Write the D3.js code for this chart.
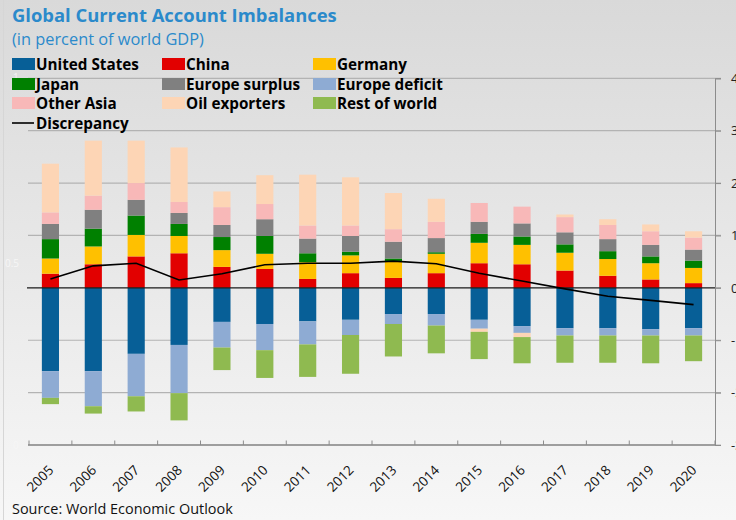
<!DOCTYPE html>
<html><head><meta charset="utf-8">
<script src="https://cdn.jsdelivr.net/npm/d3@7"></script>
<style>html,body{margin:0;padding:0;background:#fff;}svg{display:block;}</style>
</head><body>
<svg id="chart" width="736" height="520"></svg>
<script>
const years = ["2005","2006","2007","2008","2009","2010","2011","2012","2013","2014","2015","2016","2017","2018","2019","2020"];
const seriesNames = ["United States","China","Germany","Japan","Europe surplus","Europe deficit","Other Asia","Oil exporters","Rest of world"];
const unitedStates  = [-1.59,-1.59,-1.26,-1.09,-0.65,-0.69,-0.64,-0.61,-0.50,-0.50,-0.61,-0.73,-0.77,-0.77,-0.79,-0.77];
const china         = [0.27,0.45,0.60,0.66,0.40,0.36,0.17,0.28,0.19,0.28,0.47,0.45,0.33,0.23,0.16,0.09];
const germany       = [0.29,0.34,0.41,0.33,0.32,0.29,0.32,0.34,0.31,0.37,0.39,0.37,0.34,0.32,0.31,0.29];
const japan         = [0.37,0.34,0.37,0.23,0.25,0.34,0.17,0.07,0.06,0.03,0.17,0.16,0.16,0.15,0.13,0.14];
const europeSurplus = [0.29,0.36,0.30,0.21,0.23,0.32,0.28,0.30,0.32,0.27,0.23,0.25,0.23,0.23,0.22,0.21];
const europeDeficit = [-0.51,-0.67,-0.81,-0.92,-0.49,-0.50,-0.44,-0.29,-0.19,-0.22,-0.17,-0.13,-0.14,-0.14,-0.12,-0.14];
const otherAsia     = [0.22,0.27,0.32,0.21,0.34,0.29,0.25,0.20,0.24,0.31,0.36,0.32,0.29,0.27,0.26,0.23];
const oilExporters  = [0.93,1.05,0.81,1.04,0.30,0.55,0.97,0.92,0.69,0.44,-0.06,-0.08,0.05,0.11,0.13,0.12];
const restOfWorld   = [-0.12,-0.14,-0.29,-0.52,-0.43,-0.53,-0.62,-0.74,-0.62,-0.53,-0.52,-0.50,-0.52,-0.52,-0.53,-0.49];
const discrepancy   = [0.17,0.42,0.47,0.15,0.27,0.44,0.47,0.47,0.51,0.46,0.28,0.13,-0.02,-0.16,-0.24,-0.32];
const yTicks = [4,3,2,1,0,-1,-2,-3];
const colors = ["#075f97","#e20000","#ffc000","#008000","#808080","#8eabd3","#f8b8b8","#fdd5b5","#8fba50"];

const seriesValues = [unitedStates,china,germany,japan,europeSurplus,europeDeficit,otherAsia,oilExporters,restOfWorld];
const table = years.map((y,i)=>{const r={year:y};seriesNames.forEach((n,k)=>r[n]=seriesValues[k][i]);return r;});

const svg = d3.select("#chart");
const defs = svg.append("defs");
const grad = defs.append("linearGradient").attr("id","bg").attr("x1",0).attr("y1",0).attr("x2",0).attr("y2",1);
grad.append("stop").attr("offset","0%").attr("stop-color","#d9d9d9");
grad.append("stop").attr("offset","100%").attr("stop-color","#f7f7f7");
svg.append("rect").attr("width",736).attr("height",520).attr("fill","url(#bg)");
svg.append("line").attr("x1",3.5).attr("x2",3.5).attr("y1",0).attr("y2",520).attr("stroke","#d6d6d6");

const x = d3.scaleBand().domain(years).range([29,715]).paddingInner(0.6).paddingOuter(0.3);
const y = d3.scaleLinear().domain([-3,4]).range([445,78.3]);
const step = x.step();

// gridlines
svg.append("g").selectAll("line").data(yTicks.filter(t=>t!==0)).join("line")
  .attr("x1",28).attr("x2",721).attr("y1",d=>y(d)).attr("y2",d=>y(d))
  .attr("stroke","#b3b3b3").attr("stroke-width",1.2);

// ghost labels of hidden left axis
const ghost = svg.append("g").attr("fill","#f6f6f6").attr("font-family","Open Sans, sans-serif").attr("font-size",10);
ghost.append("text").attr("x",13).attr("y",81).text("1");
ghost.append("text").attr("x",5).attr("y",267).text("0.5");
ghost.append("text").attr("x",13).attr("y",449).text("0");

// stacked bars
const stack = d3.stack().keys(seriesNames).offset(d3.stackOffsetDiverging);
const stacked = stack(table);
svg.append("g").selectAll("g").data(stacked).join("g")
  .attr("fill",(d,i)=>colors[i])
  .selectAll("rect").data(d=>d).join("rect")
  .attr("x",d=>x(d.data.year))
  .attr("width",x.bandwidth())
  .attr("y",d=>y(Math.max(d[0],d[1])))
  .attr("height",d=>Math.abs(y(d[0])-y(d[1])));

// zero line
svg.append("line").attr("x1",27).attr("x2",715).attr("y1",y(0)).attr("y2",y(0)).attr("stroke","#1a1a1a").attr("stroke-width",1.3);
svg.append("line").attr("x1",715).attr("x2",721).attr("y1",y(0)).attr("y2",y(0)).attr("stroke","#999");

// discrepancy line
const line = d3.line().x((d,i)=>x(years[i])+x.bandwidth()/2).y(d=>y(d));
svg.append("path").datum(discrepancy).attr("d",line).attr("fill","none").attr("stroke","#000").attr("stroke-width",1.6);

// right axis
const ra = svg.append("g").attr("transform","translate(715,0)")
  .call(d3.axisRight(y).tickValues(yTicks).tickSize(6).tickPadding(10).tickFormat(d=>d<0?"-"+Math.abs(d):String(d)));
ra.select(".domain").attr("stroke","#8c8c8c");
ra.selectAll(".tick line").attr("stroke","#8c8c8c");
ra.selectAll(".tick text").attr("font-family","Open Sans, sans-serif").attr("font-size",13).attr("fill","#222");

// bottom axis
svg.append("line").attr("x1",28).attr("x2",715).attr("y1",445).attr("y2",445).attr("stroke","#8c8c8c").attr("stroke-width",1.3);
svg.append("g").selectAll("line").data(d3.range(years.length+1)).join("line")
  .attr("x1",d=>29+d*step).attr("x2",d=>29+d*step).attr("y1",440.5).attr("y2",445).attr("stroke","#8c8c8c");
svg.append("g").selectAll("text").data(years).join("text")
  .attr("transform",d=>`translate(${x(d)+x.bandwidth()/2+4},471) rotate(-45)`)
  .attr("text-anchor","end").attr("font-family","Open Sans, sans-serif").attr("font-size",13.5).attr("fill","#111")
  .text(d=>d);

function fit(sel, target){
  const n = sel.node(); const fs = parseFloat(sel.attr("font-size"));
  const w = n.getComputedTextLength();
  if (w>0) sel.attr("font-size", fs*target/w);
}

// title
const title = svg.append("text").attr("x",12).attr("y",22).attr("font-family","Open Sans, sans-serif")
  .attr("font-weight","bold").attr("font-size",19).attr("fill","#2b8acb").text("Global Current Account Imbalances");
fit(title,325);
const sub = svg.append("text").attr("x",12).attr("y",45).attr("font-family","Open Sans, sans-serif")
  .attr("font-size",16).attr("fill","#2b8acb").text("(in percent of world GDP)");
fit(sub,192);

// legend
const legCols = [12,162,313];
const legRows = [58,78,97];
const lg = svg.append("g");
let legFont = 16;
seriesNames.forEach((n,i)=>{
  const c = i%3, r = Math.floor(i/3);
  lg.append("rect").attr("x",legCols[c]).attr("y",legRows[r]).attr("width",23).attr("height",12).attr("fill",colors[i]);
  lg.append("text").attr("class","lt").attr("x",legCols[c]+24).attr("y",legRows[r]+12)
    .attr("font-family","Open Sans, sans-serif").attr("font-weight","bold").attr("font-size",legFont).attr("fill","#000").text(n);
});
lg.append("line").attr("x1",12).attr("x2",34).attr("y1",123).attr("y2",123).attr("stroke","#000").attr("stroke-width",1.6);
lg.append("text").attr("class","lt").attr("x",36).attr("y",129).attr("font-family","Open Sans, sans-serif").attr("font-weight","bold")
  .attr("font-size",legFont).attr("fill","#000").text("Discrepancy");
const us = lg.selectAll(".lt").filter(function(){return this.textContent==="United States";});
const wUS = us.node().getComputedTextLength();
const newFs = legFont*103/wUS;
lg.selectAll(".lt").attr("font-size",newFs);

// source
const src = svg.append("text").attr("x",12).attr("y",514).attr("font-family","Liberation Sans Narrow, Open Sans, sans-serif")
  .attr("font-size",15).attr("fill","#111").text("Source: World Economic Outlook");
fit(src,221);
</script>
</body></html>
